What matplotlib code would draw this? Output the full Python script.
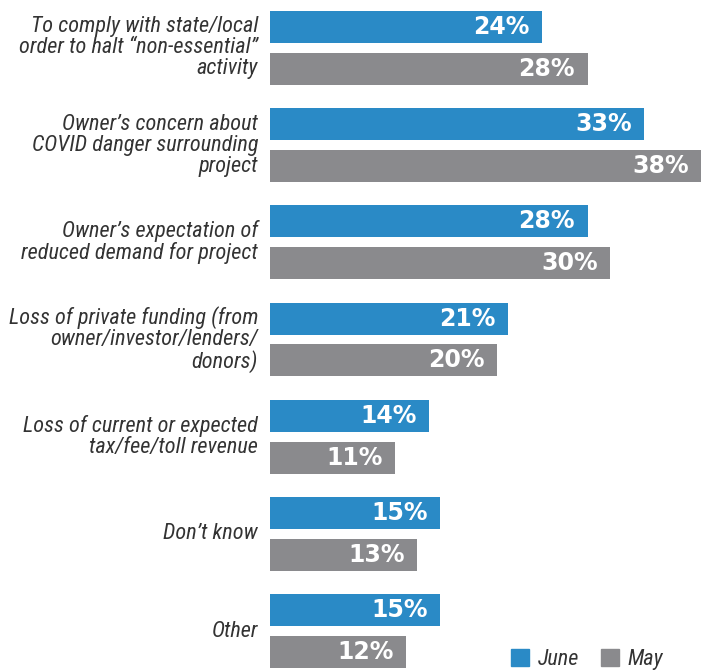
import matplotlib.pyplot as plt
from matplotlib.patches import Patch

categories = [
    "To comply with state/local\norder to halt \u201cnon-essential\u201d\nactivity",
    "Owner\u2019s concern about\nCOVID danger surrounding\nproject",
    "Owner\u2019s expectation of\nreduced demand for project",
    "Loss of private funding (from\nowner/investor/lenders/\ndonors)",
    "Loss of current or expected\ntax/fee/toll revenue",
    "Don\u2019t know",
    "Other",
]
june = [24, 33, 28, 21, 14, 15, 15]
may = [28, 38, 30, 20, 11, 13, 12]

BLUE = "#2a8ac6"
GRAY = "#8a8a8d"
LABEL_FONT = ["Roboto Condensed", "Liberation Sans", "DejaVu Sans"]

fig = plt.figure(figsize=(7.01, 6.71), dpi=100)
ax = fig.add_axes([270 / 701, 3 / 671, 431 / 701, 657 / 671])

pos = list(range(len(categories)))
off = 0.215
h = 0.33
ax.barh([p - off for p in pos], june, height=h, color=BLUE)
ax.barh([p + off for p in pos], may, height=h, color=GRAY)

# value labels sit inside the bar end
for p, j, m in zip(pos, june, may):
    for y, v in ((p - off, j), (p + off, m)):
        ax.annotate(f"{v}%", (v, y), xytext=(-9, 0), textcoords="offset points",
                    ha="right", va="center", color="white",
                    fontsize=17, fontweight="bold")

ax.set_xlim(0, 38)
ax.set_ylim(6.38, -0.38)
ax.axis("off")

for p, c in zip(pos, categories):
    ax.text(-1.05, p, c, ha="right", va="center", fontsize=16,
            style="italic", color="#333333", family=LABEL_FONT,
            linespacing=1.0)

handles = [Patch(color=BLUE, label="June"), Patch(color=GRAY, label="May")]
leg = fig.legend(handles=handles, loc="lower right", bbox_to_anchor=(0.975, -0.028),
                 ncol=2, frameon=False, handlelength=0.8, handleheight=0.8,
                 handletextpad=0.4, columnspacing=1.0,
                 prop={"family": LABEL_FONT, "style": "italic", "size": 16})
for t in leg.get_texts():
    t.set_color("#333333")

fig.savefig("out.png", dpi=100)
